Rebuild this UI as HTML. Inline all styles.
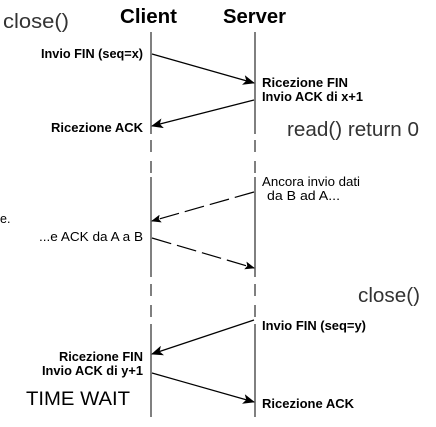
<!DOCTYPE html>
<html><head><meta charset="utf-8"><style>
html,body{margin:0;padding:0;background:#fff;width:436px;height:427px;overflow:hidden}
svg{display:block}
text{font-family:"Liberation Sans",Arial,sans-serif;fill:#000}
.b{font-weight:bold;font-size:12.5px}
.n{font-size:12.5px}
.big{font-size:20px;fill:#333}
</style></head><body>
<svg width="436" height="427" viewBox="0 0 436 427" xmlns="http://www.w3.org/2000/svg">
<defs>
<marker id="a" markerWidth="12" markerHeight="10" refX="11" refY="5" orient="auto" markerUnits="userSpaceOnUse">
<path d="M0,0 L12,5 L0,10 L3,5 Z" fill="#000"/></marker>
<marker id="s" markerWidth="10" markerHeight="8" refX="9" refY="4" orient="auto" markerUnits="userSpaceOnUse">
<path d="M0,0 L10,4 L0,8 L2,4 Z" fill="#000"/></marker>
</defs>
<g stroke="#555" stroke-width="1.5">
<line x1="151" y1="32" x2="151" y2="134"/>
<line x1="255" y1="32" x2="255" y2="134"/>
<line x1="151" y1="140" x2="151" y2="175" stroke-dasharray="12 9"/>
<line x1="255" y1="140" x2="255" y2="175" stroke-dasharray="12 9"/>
<line x1="151" y1="177" x2="151" y2="277"/>
<line x1="255" y1="177" x2="255" y2="277"/>
<line x1="151" y1="284" x2="151" y2="322" stroke-dasharray="12 9"/>
<line x1="255" y1="284" x2="255" y2="322" stroke-dasharray="12 9"/>
<line x1="151" y1="324" x2="151" y2="417"/>
<line x1="255" y1="324" x2="255" y2="417"/>
</g>
<g stroke="#000" stroke-width="1.2" fill="none">
<line x1="152" y1="54" x2="254" y2="83" marker-end="url(#a)"/>
<line x1="254" y1="100" x2="152" y2="126" marker-end="url(#a)"/>
<line x1="254" y1="192" x2="152" y2="221" marker-end="url(#s)" stroke-dasharray="20 6"/>
<line x1="152" y1="238" x2="254" y2="268" marker-end="url(#s)" stroke-dasharray="20 6"/>
<line x1="254" y1="320" x2="152" y2="354" marker-end="url(#a)"/>
<line x1="152" y1="373" x2="254" y2="402" marker-end="url(#a)"/>
</g>
<g lengthAdjust="spacingAndGlyphs">
<text x="3" y="28" class="big" lengthAdjust="spacingAndGlyphs" textLength="66">close()</text>
<text x="120" y="23" font-size="20" font-weight="bold" lengthAdjust="spacingAndGlyphs" textLength="57">Client</text>
<text x="223" y="23" font-size="20" font-weight="bold" lengthAdjust="spacingAndGlyphs" textLength="63">Server</text>
<text x="143" y="58" class="b" text-anchor="end" lengthAdjust="spacingAndGlyphs" textLength="102">Invio FIN (seq=x)</text>
<text x="262" y="87" class="b" lengthAdjust="spacingAndGlyphs" textLength="86">Ricezione FIN</text>
<text x="262" y="101" class="b" lengthAdjust="spacingAndGlyphs" textLength="101">Invio ACK di x+1</text>
<text x="143" y="132" class="b" text-anchor="end" lengthAdjust="spacingAndGlyphs" textLength="92">Ricezione ACK</text>
<text x="287" y="136" class="big" lengthAdjust="spacingAndGlyphs" textLength="132">read() return 0</text>
<text x="262" y="186" class="n" lengthAdjust="spacingAndGlyphs" textLength="98">Ancora invio dati</text>
<text x="267" y="200" class="n" lengthAdjust="spacingAndGlyphs" textLength="73">da B ad A...</text>
<text x="0" y="223" class="n">e.</text>
<text x="143" y="241" class="n" text-anchor="end" lengthAdjust="spacingAndGlyphs" textLength="104">...e ACK da A a B</text>
<text x="358" y="302" class="big" lengthAdjust="spacingAndGlyphs" textLength="62">close()</text>
<text x="262" y="330" class="b" lengthAdjust="spacingAndGlyphs" textLength="104">Invio FIN (seq=y)</text>
<text x="143" y="361" class="b" text-anchor="end" lengthAdjust="spacingAndGlyphs" textLength="84">Ricezione FIN</text>
<text x="143" y="375" class="b" text-anchor="end" lengthAdjust="spacingAndGlyphs" textLength="101">Invio ACK di y+1</text>
<text x="26" y="405" font-size="19" fill="#333" lengthAdjust="spacingAndGlyphs" textLength="104">TIME WAIT</text>
<text x="262" y="408" class="b" lengthAdjust="spacingAndGlyphs" textLength="92">Ricezione ACK</text>
</g>
</svg>
</body></html>
